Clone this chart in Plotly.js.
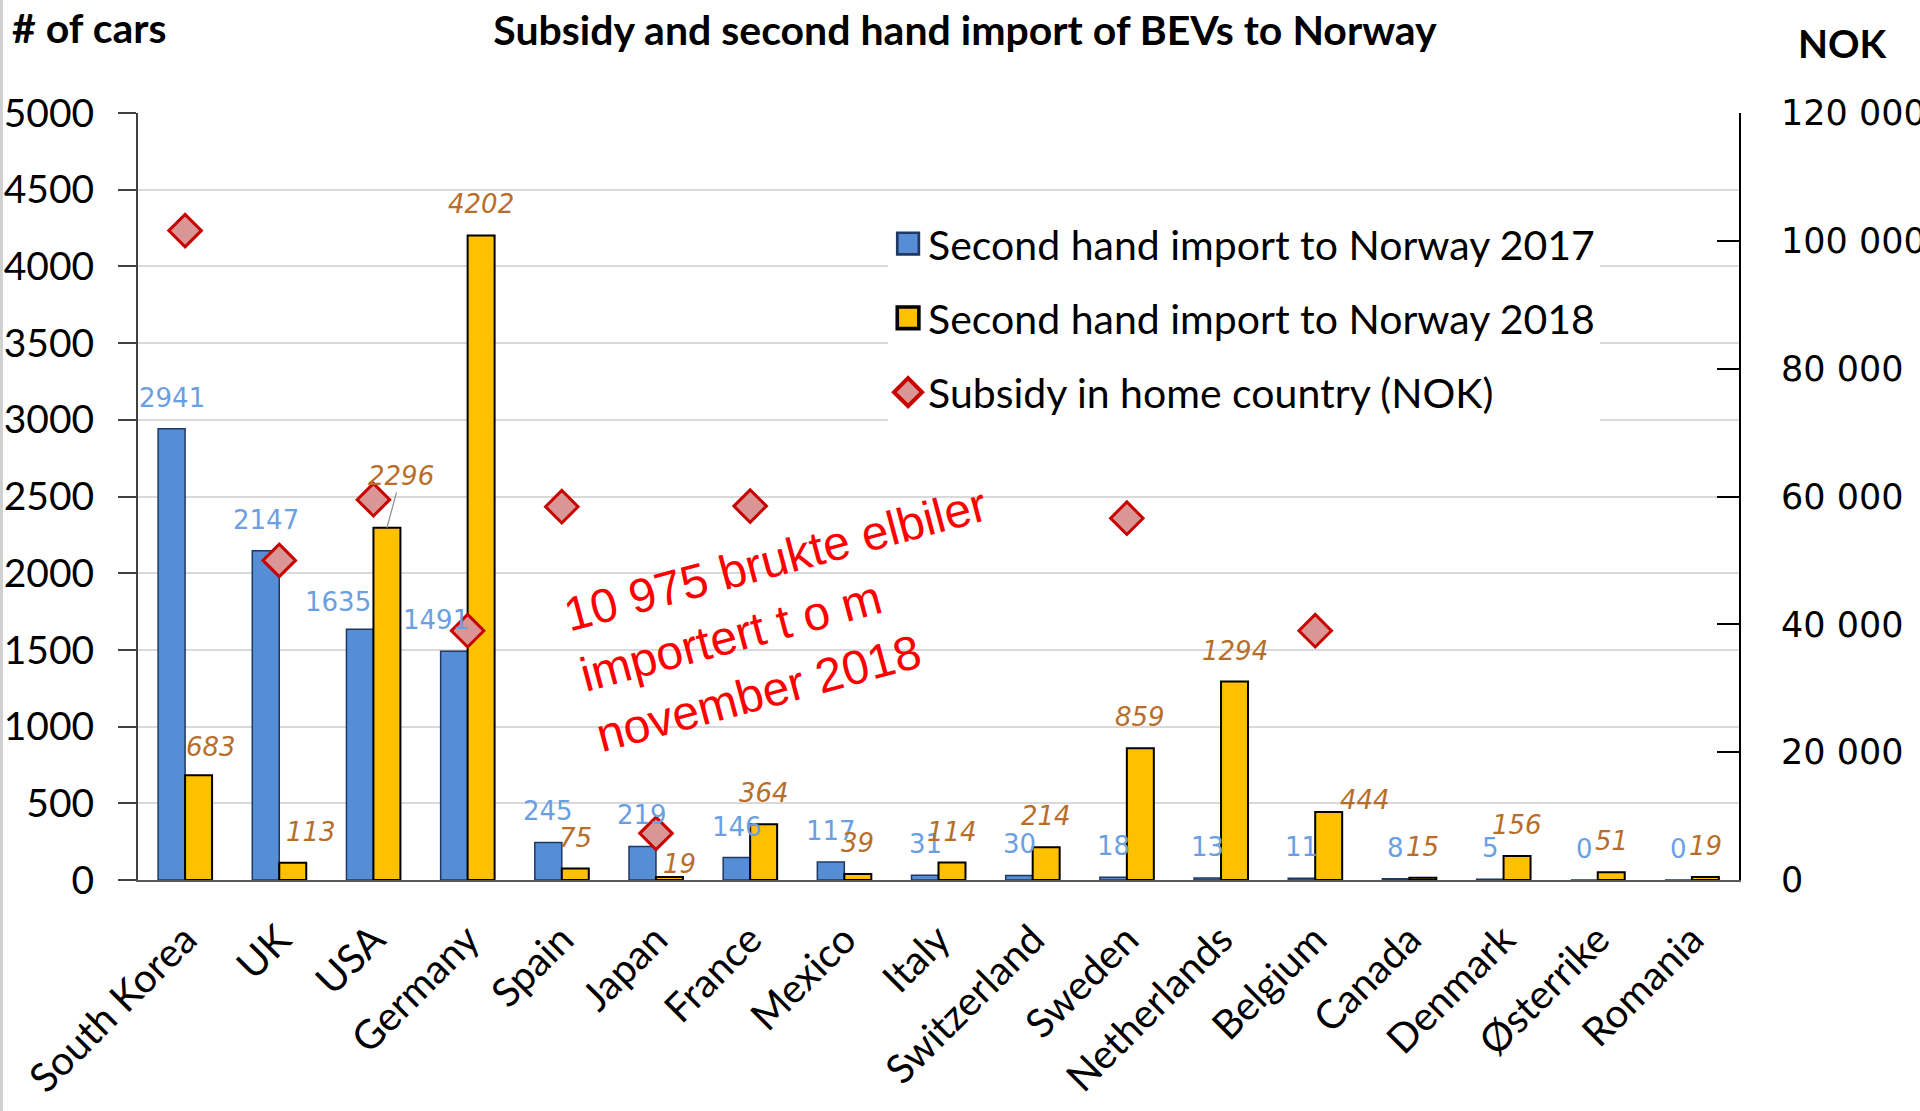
<!DOCTYPE html>
<html>
<head>
<meta charset="utf-8">
<script src="https://cdn.plot.ly/plotly-3.0.1.min.js"></script>
<style>
  html, body { margin: 0; padding: 0; background: #ffffff; }
  #chart { width: 1920px; height: 1111px; }
</style>
</head>
<body>
<div id="chart"></div>
<script>
// ---- data ----
var categories = ["South Korea", "UK", "USA", "Germany", "Spain", "Japan", "France", "Mexico", "Italy",
  "Switzerland", "Sweden", "Netherlands", "Belgium", "Canada", "Denmark", "Østerrike", "Romania"];
var import2017 = [2941, 2147, 1635, 1491, 245, 219, 146, 117, 31, 30, 18, 13, 11, 8, 5, 0, 0];
var import2018 = [683, 113, 2296, 4202, 75, 19, 364, 39, 114, 214, 859, 1294, 444, 15, 156, 51, 19];
var subsidyNOK = [101600, 50000, 59500, 39000, 58400, 7300, 58500, null, null, null, 56600, null, 39000, null, null, null, null];

var seriesNames = ["Second hand import to Norway 2017", "Second hand import to Norway 2018", "Subsidy in home country (NOK)"];
var chartTitle = "Subsidy and second hand import of BEVs to Norway";
var leftTitle = "# of cars";
var rightTitle = "NOK";
var noteText = "10 975 brukte elbiler<br>importert t o m<br>november 2018";

// ---- label placement tweaks (pixels, styling only) ----
var labelShift2017 = { "USA": [-22, -4], "Germany": [-18, 0] };
var labelShift2018 = { "South Korea": [12, -3], "UK": [18, 0], "Japan": [10, -18], "Belgium": [36, -19] };

var barHalf = 13.5;
var baseLift = 31;

var traces = [
  {
    type: "bar", name: seriesNames[0], x: categories, y: import2017,
    marker: { color: "#558ED5", line: { color: "#1F3864", width: 1.5 } },
    legendgroup: "a", hoverinfo: "x+y"
  },
  {
    type: "bar", name: seriesNames[1], x: categories, y: import2018,
    marker: { color: "#FFC000", line: { color: "#000000", width: 2 } },
    legendgroup: "b", hoverinfo: "x+y"
  },
  {
    type: "scatter", mode: "markers", name: seriesNames[2], x: categories, y: subsidyNOK,
    yaxis: "y2", cliponaxis: false,
    marker: { symbol: "diamond", size: 25, color: "#D99694", line: { color: "#C80000", width: 3 } },
    legendgroup: "c", hoverinfo: "x+y"
  }
];

var annotations = [];
var lblFont17 = { family: "DejaVu Sans, Verdana, sans-serif", size: 26, color: "#6B9FE3" };
var lblFont18 = { family: "DejaVu Sans, Verdana, sans-serif", size: 26, color: "#B86E2A", style: "italic" };

categories.forEach(function (c, i) {
  var s1 = labelShift2017[c] || [0, 0];
  annotations.push({
    x: c, y: import2017[i], xref: "x", yref: "y", text: String(import2017[i]),
    showarrow: false, xanchor: "center", yanchor: "middle",
    xshift: -barHalf + s1[0], yshift: baseLift + s1[1], font: lblFont17
  });
  if (c === "USA") {
    annotations.push({
      x: c, y: import2018[i], xref: "x", yref: "y", text: String(import2018[i]),
      showarrow: true, arrowhead: 0, arrowwidth: 1.2, arrowcolor: "#8c8c8c", standoff: 0,
      ax: 14, ay: -52, xshift: barHalf, font: lblFont18
    });
  } else {
    var s2 = labelShift2018[c] || [0, 0];
    annotations.push({
      x: c, y: import2018[i], xref: "x", yref: "y", text: String(import2018[i]),
      showarrow: false, xanchor: "center", yanchor: "middle",
      xshift: barHalf + s2[0], yshift: baseLift + s2[1], font: lblFont18
    });
  }
});

annotations.push({
  xref: "paper", yref: "paper", x: -0.08, y: 1.112, xanchor: "left", yanchor: "middle",
  text: "<b>" + leftTitle + "</b>", showarrow: false,
  font: { family: "Lato, Carlito, sans-serif", size: 41, color: "#000000" }
});
annotations.push({
  xref: "paper", yref: "paper", x: 1.065, y: 1.0913, xanchor: "center", yanchor: "middle",
  text: "<b>" + rightTitle + "</b>", showarrow: false,
  font: { family: "Lato, Carlito, sans-serif", size: 39, color: "#000000" }
});
annotations.push({
  xref: "paper", yref: "paper", x: 0.408, y: 0.339, xanchor: "center", yanchor: "middle",
  text: noteText, showarrow: false, align: "left", textangle: -15,
  font: { family: "Liberation Sans, Arial, sans-serif", size: 48, color: "#FF0000" }
});

var layout = {
  width: 1920, height: 1111,
  paper_bgcolor: "#ffffff", plot_bgcolor: "#ffffff",
  margin: { l: 138, r: 181, t: 113, b: 231, pad: 0 },
  separators: ". ",
  barmode: "group", bargap: 0.427, bargroupgap: 0,
  showlegend: true,
  title: {
    text: "<b>" + chartTitle + "</b>",
    font: { family: "Lato, Carlito, sans-serif", size: 41, color: "#000000" },
    x: 0.5026, xanchor: "center", y: 0.972, yanchor: "middle"
  },
  xaxis: {
    type: "category", range: [-0.5, categories.length - 0.5],
    showline: true, linecolor: "#595959", linewidth: 2,
    ticks: "", tickangle: -45, showgrid: false, zeroline: false,
    ticklabelstandoff: 18,
    tickfont: { family: "Lato, Carlito, sans-serif", size: 40, color: "#000000" },
    automargin: false
  },
  yaxis: {
    range: [0, 5000], dtick: 500, tickformat: "d",
    showline: true, linecolor: "#404040", linewidth: 2,
    ticks: "outside", ticklen: 18, tickwidth: 2, tickcolor: "#404040",
    ticklabelstandoff: 16,
    showgrid: true, gridcolor: "#D9D9D9", gridwidth: 2, zeroline: false,
    tickfont: { family: "Lato, Carlito, sans-serif", size: 39, color: "#000000" },
    automargin: false
  },
  yaxis2: {
    overlaying: "y", side: "right", range: [0, 120000], dtick: 20000, tickformat: ",d",
    showline: true, linecolor: "#000000", linewidth: 2,
    ticks: "inside", ticklen: 22, tickwidth: 2, tickcolor: "#000000",
    ticklabelstandoff: 33,
    showgrid: false, zeroline: false,
    tickfont: { family: "DejaVu Sans, Verdana, sans-serif", size: 35, color: "#000000" },
    automargin: false
  },
  legend: {
    x: 0.4685, y: 0.873, xanchor: "left", yanchor: "top",
    bgcolor: "#ffffff", borderwidth: 0,
    font: { family: "Lato, Carlito, sans-serif", size: 41, color: "#000000" },
    tracegroupgap: 18, itemwidth: 30
  },
  shapes: [
    { type: "line", xref: "paper", yref: "paper", x0: -0.0853, x1: -0.0853, y0: -0.302, y1: 1.148,
      line: { color: "#D0D0D0", width: 3 }, layer: "above" }
  ],
  annotations: annotations
};

Plotly.newPlot("chart", traces, layout, { displayModeBar: false, staticPlot: true }).then(function (gd) {
  // enlarge legend swatches to match the reference
  var pts = gd.querySelectorAll(".legend .traces");
  pts.forEach(function (tr, k) {
    var paths = tr.querySelectorAll(".legendpoints path");
    paths.forEach(function (p) {
      var t = p.getAttribute("transform") || "";
      p.setAttribute("transform", t + (k < 2 ? " scale(1.8)" : " scale(1.35)"));
    });
  });
});
</script>
</body>
</html>
